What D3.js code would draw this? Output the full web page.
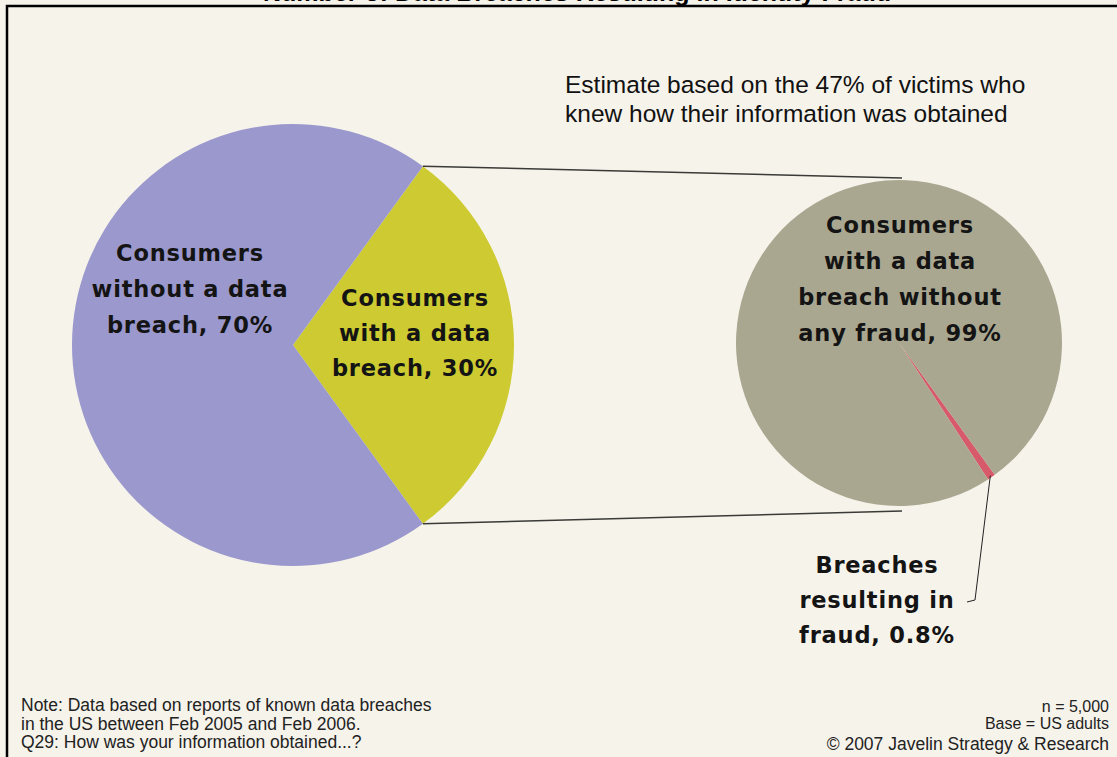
<!DOCTYPE html>
<html>
<head>
<meta charset="utf-8">
<script src="https://cdn.jsdelivr.net/npm/d3@7"></script>
<style>
  body { margin: 0; background: #f6f3eb; }
  svg { display: block; }
</style>
</head>
<body>
<div id="chart"></div>
<script>
// data
var mainLabels = ["Consumers with a data breach, 30%", "Consumers without a data breach, 70%"];
var mainValues = [30, 70];
var mainColors = ["#cdcb31", "#9a98cd"];

var subLabels = ["Breaches resulting in fraud, 0.8%", "Consumers with a data breach without any fraud, 99%"];
var subValues = [0.8, 99];
var subColors = ["#d65a6a", "#aaa791"];

var titleText = "Number of Data Breaches Resulting in Identity Fraud";
var noteLines = ["Note: Data based on reports of known data breaches",
                 "in the US between Feb 2005 and Feb 2006.",
                 "Q29: How was your information obtained...?"];
var baseLines = ["n = 5,000", "Base = US adults"];
var creditText = "\u00a9 2007 Javelin Strategy & Research";
var estimateLines = ["Estimate based on the 47% of victims who",
                     "knew how their information was obtained"];

var width = 1117, height = 757;

var svg = d3.select("#chart")
  .append("svg")
  .attr("width", width)
  .attr("height", height);

svg.append("rect")
  .attr("width", width).attr("height", height)
  .attr("fill", "#f6f3eb");

// title, mostly cut off by the top of the picture
svg.append("text")
  .attr("x", 577).attr("y", 1)
  .attr("text-anchor", "middle")
  .style("font-family", "Liberation Sans, Arial, sans-serif")
  .style("font-weight", "bold")
  .style("font-size", "25px")
  .text(titleText);

// frame
svg.append("rect")
  .attr("x", 7).attr("y", 6)
  .attr("width", width + 20).attr("height", height + 20)
  .attr("fill", "none")
  .attr("stroke", "#000")
  .attr("stroke-width", 2.5);

var deg = Math.PI / 180;

// left pie: the 30% wedge is centred on the right (east)
var mainCx = 293, mainCy = 345, mainR = 221;
var mainStart = 90 * deg - (mainValues[0] / 100) * Math.PI;
var mainPie = d3.pie().sort(null)
  .startAngle(mainStart).endAngle(mainStart + 2 * Math.PI);
var mainArc = d3.arc().innerRadius(0).outerRadius(mainR);
var mainArcs = mainPie(mainValues);

var gMain = svg.append("g")
  .attr("transform", "translate(" + mainCx + "," + mainCy + ")");
gMain.selectAll("path")
  .data(mainArcs)
  .enter().append("path")
  .attr("d", mainArc)
  .attr("fill", function(d, i) { return mainColors[i]; });

// right pie
var subCx = 899, subCy = 343, subR = 163;
var subStart = 144 * deg;
var subPie = d3.pie().sort(null)
  .startAngle(subStart).endAngle(subStart + 2 * Math.PI);
var subArc = d3.arc().innerRadius(0).outerRadius(subR);
var subArcs = subPie(subValues);

var gSub = svg.append("g")
  .attr("transform", "translate(" + subCx + "," + subCy + ")");
gSub.selectAll("path")
  .data(subArcs)
  .enter().append("path")
  .attr("d", subArc)
  .attr("fill", function(d, i) { return subColors[i]; });

// connector lines from the 30% wedge corners to the right pie
function edgePoint(cx, cy, r, a) {
  return [cx + r * Math.sin(a), cy - r * Math.cos(a)];
}
var topCorner = edgePoint(mainCx, mainCy, mainR, mainArcs[0].startAngle);
var botCorner = edgePoint(mainCx, mainCy, mainR, mainArcs[0].endAngle);
var connectors = [
  [topCorner, [subCx + 3, subCy - subR - 2]],
  [botCorner, [subCx + 3, subCy + subR + 5]]
];
svg.selectAll(".connector")
  .data(connectors)
  .enter().append("line")
  .attr("class", "connector")
  .attr("x1", function(d) { return d[0][0]; })
  .attr("y1", function(d) { return d[0][1]; })
  .attr("x2", function(d) { return d[1][0]; })
  .attr("y2", function(d) { return d[1][1]; })
  .attr("stroke", "#3a3a36")
  .attr("stroke-width", 1.5);

// labels
var labelFont = "DejaVu Sans, Verdana, sans-serif";
function block(lines, x, y, lineH, opts) {
  var t = svg.append("text")
    .attr("x", x).attr("y", y)
    .attr("text-anchor", opts.anchor || "middle")
    .style("font-family", opts.family)
    .style("font-weight", opts.weight || "normal")
    .style("font-size", opts.size + "px")
    .style("letter-spacing", opts.spacing || "0px")
    .attr("fill", opts.fill || "#111");
  lines.forEach(function(l, i) {
    t.append("tspan").attr("x", x).attr("dy", i === 0 ? 0 : lineH).text(l);
  });
  return t;
}

var boldLabel = { family: labelFont, weight: "bold", size: 22.5, spacing: "0.8px", fill: "#141414" };
block(["Consumers", "without a data", "breach, 70%"], 190, 261, 36, boldLabel);
block(["Consumers", "with a data", "breach, 30%"], 415, 306, 35, boldLabel);
block(["Consumers", "with a data", "breach without", "any fraud, 99%"], 900, 233, 36, boldLabel);
block(["Breaches", "resulting in", "fraud, 0.8%"], 877, 573, 35, boldLabel);

// leader line for the fraud slice
var fraudMid = (subArcs[0].startAngle + subArcs[0].endAngle) / 2;
var fraudTip = edgePoint(subCx, subCy, subR - 2, fraudMid);
svg.append("path")
  .attr("d", d3.line()([fraudTip, [975, 600], [967, 602]]))
  .attr("fill", "none")
  .attr("stroke", "#222")
  .attr("stroke-width", 1);

var plain = { family: "Liberation Sans, Arial, sans-serif", size: 24.5, anchor: "start", fill: "#111" };
block(estimateLines, 565, 93, 29, plain);

var small = "Liberation Sans, Arial, sans-serif";
block(noteLines, 21, 711, 18.5, { family: small, size: 17.5, anchor: "start", fill: "#222" });
block(baseLines, 1109, 712, 17, { family: small, size: 16, anchor: "end", fill: "#222" });
block([creditText], 1109, 750, 0, { family: small, size: 17.5, anchor: "end", fill: "#222" });
</script>
</body>
</html>
